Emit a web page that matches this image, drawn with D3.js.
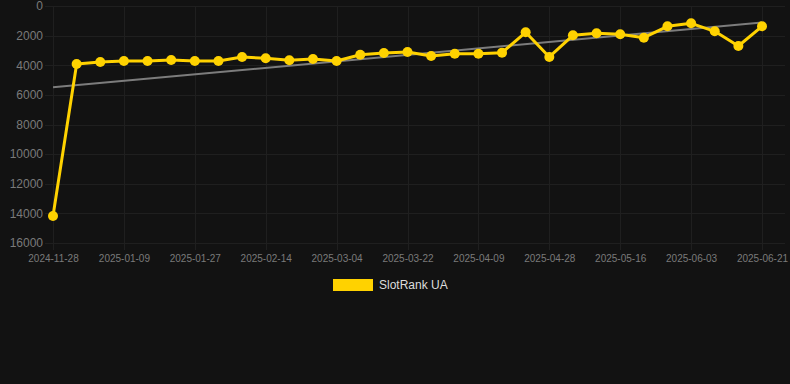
<!DOCTYPE html>
<html>
<head>
<meta charset="utf-8">
<script src="https://cdn.jsdelivr.net/npm/d3@7"></script>
<style>
  html, body { margin: 0; padding: 0; background: #121212; }
  svg { display: block; font-family: "Liberation Sans", Arial, sans-serif; }
</style>
</head>
<body>
<div id="chart"></div>
<script>
const dates = [
  "2024-11-28", "2024-12-28", "2025-01-03", "2025-01-09", "2025-01-15", "2025-01-21",
  "2025-01-27", "2025-02-02", "2025-02-08", "2025-02-14", "2025-02-20", "2025-02-26",
  "2025-03-04", "2025-03-10", "2025-03-16", "2025-03-22", "2025-03-28", "2025-04-03",
  "2025-04-09", "2025-04-15", "2025-04-21", "2025-04-28", "2025-05-04", "2025-05-10",
  "2025-05-16", "2025-05-22", "2025-05-28", "2025-06-03", "2025-06-09", "2025-06-15",
  "2025-06-21"
];
const ranks = [
  14180, 3915, 3780, 3710, 3710, 3645, 3710, 3710, 3440, 3530, 3665, 3580,
  3710, 3290, 3170, 3105, 3375, 3220, 3220, 3150, 1775, 3440, 1980, 1840,
  1910, 2140, 1370, 1170, 1710, 2700, 1370
];
const yTicks = [0, 2000, 4000, 6000, 8000, 10000, 12000, 14000, 16000];
const seriesName = "SlotRank UA";

const width = 790, height = 384;
const margin = { top: 6, right: 28, bottom: 141, left: 53 };

const svg = d3.select("#chart").append("svg")
  .attr("width", width)
  .attr("height", height);

const x = d3.scalePoint()
  .domain(dates)
  .range([margin.left, width - margin.right]);

const y = d3.scaleLinear()
  .domain([0, 16000])
  .range([margin.top, height - margin.bottom]);

// grid
const grid = svg.append("g").attr("stroke", "#1f1f1f").attr("stroke-width", 1);
grid.selectAll("line.h")
  .data(yTicks)
  .join("line")
  .attr("class", "h")
  .attr("x1", margin.left - 8)
  .attr("x2", width - 5)
  .attr("y1", d => Math.round(y(d)) + 0.5)
  .attr("y2", d => Math.round(y(d)) + 0.5);

const labelDates = dates.filter((d, i) => i % 3 === 0);
grid.selectAll("line.v")
  .data(labelDates)
  .join("line")
  .attr("class", "v")
  .attr("x1", d => Math.round(x(d)) + 0.5)
  .attr("x2", d => Math.round(x(d)) + 0.5)
  .attr("y1", margin.top)
  .attr("y2", height - margin.bottom + 7);

// axes
const yAxis = svg.append("g")
  .attr("transform", `translate(${margin.left - 10},0)`)
  .call(d3.axisLeft(y).tickValues(yTicks).tickSize(0).tickPadding(0).tickFormat(d3.format("d")));
yAxis.select(".domain").remove();
yAxis.selectAll("text").attr("fill", "#7a7a7a").attr("font-size", 12);

const xAxis = svg.append("g")
  .attr("transform", `translate(0,${height - margin.bottom})`)
  .call(d3.axisBottom(x).tickValues(labelDates).tickSize(0).tickPadding(12));
xAxis.select(".domain").remove();
xAxis.selectAll("text").attr("fill", "#7a7a7a").attr("font-size", 10);

// trend line (least squares over the series)
const n = ranks.length;
const idx = d3.range(n);
const mx = d3.mean(idx), my = d3.mean(ranks);
const slope = d3.sum(idx, i => (i - mx) * (ranks[i] - my)) / d3.sum(idx, i => (i - mx) ** 2);
const intercept = my - slope * mx;
svg.append("line")
  .attr("x1", x(dates[0]))
  .attr("y1", y(intercept))
  .attr("x2", x(dates[n - 1]))
  .attr("y2", y(intercept + slope * (n - 1)))
  .attr("stroke", "#7c7c7c")
  .attr("stroke-width", 2);

// series
const color = "#ffd200";
svg.append("path")
  .datum(ranks)
  .attr("fill", "none")
  .attr("stroke", color)
  .attr("stroke-width", 3)
  .attr("stroke-linejoin", "round")
  .attr("d", d3.line().x((d, i) => x(dates[i])).y(d => y(d)));

svg.append("g")
  .selectAll("circle")
  .data(ranks)
  .join("circle")
  .attr("cx", (d, i) => x(dates[i]))
  .attr("cy", d => y(d))
  .attr("r", 5)
  .attr("fill", color);

// legend
const legend = svg.append("g").attr("transform", "translate(333,279)");
legend.append("rect")
  .attr("width", 40)
  .attr("height", 12)
  .attr("fill", color);
legend.append("text")
  .attr("x", 46)
  .attr("y", 10)
  .attr("fill", "#dddddd")
  .attr("font-size", 12)
  .text(seriesName);
</script>
</body>
</html>
